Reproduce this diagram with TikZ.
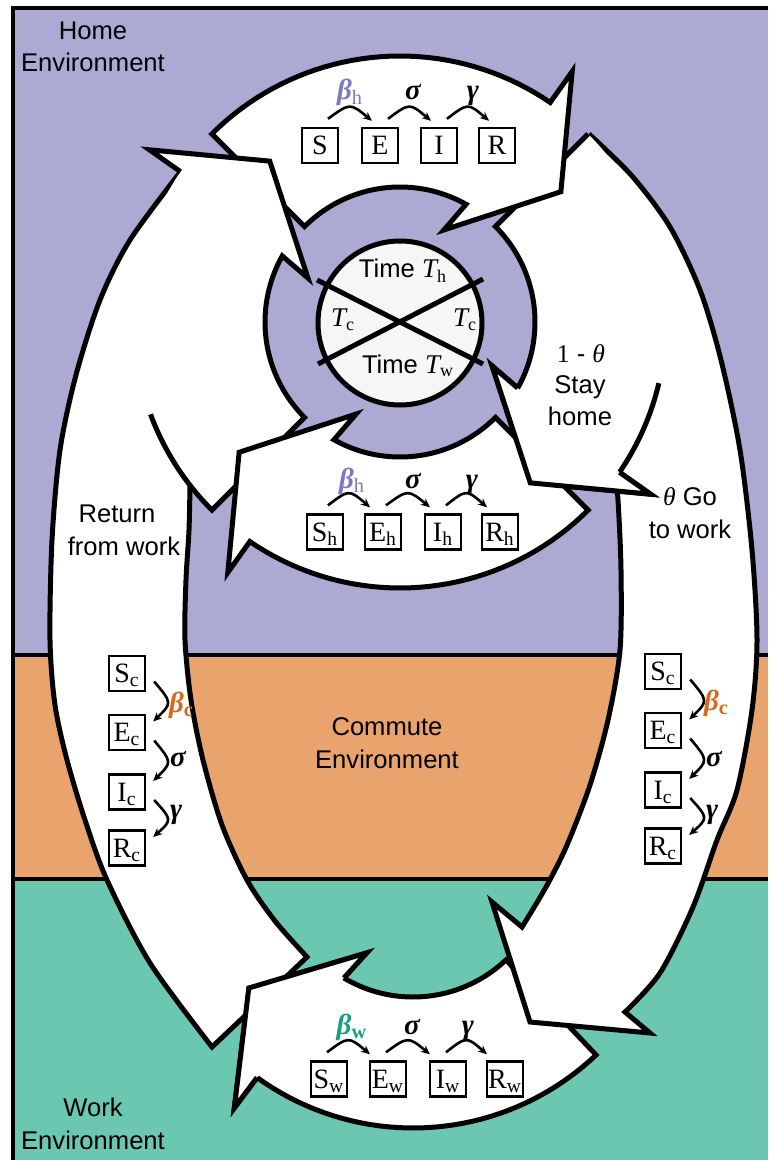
\documentclass[tikz,border=0pt]{standalone}
\usepackage{fontspec}
\setmainfont{Liberation Sans}
\newfontfamily\serif{Liberation Serif}
\usetikzlibrary{arrows.meta,calc}

\definecolor{homebg}{HTML}{ACAAD3}
\definecolor{commbg}{HTML}{E9A36D}
\definecolor{workbg}{HTML}{6CC7B1}
\definecolor{betah}{HTML}{7E78C3}
\definecolor{betac}{HTML}{D9681B}
\definecolor{betaw}{HTML}{15A080}
\definecolor{dialbg}{HTML}{F6F6F6}

% point at radius #3 and angle #4 around (#1,#2); the y axis points down
\newcommand{\ringpt}[4]{({#1+(#3)*cos(#4)},{#2+(#3)*sin(#4)})}
% straight line to such a point
\newcommand{\ringto}[4]{-- ({#1+(#3)*cos(#4)},{#2+(#3)*sin(#4)})}
% circular arc of radius #3 from angle #4 to angle #5
\newcommand{\ringarcto}[5]{-- plot[domain=0:1,samples=40]({#1+(#3)*cos((#4)+((#5)-(#4))*\x)},{#2+(#3)*sin((#4)+((#5)-(#4))*\x)})}
% curved block arrow on a ring, tail at angle #3, head 96 degrees further
\newcommand{\ringarrow}[3]{\ringpt{#1}{#2}{135}{#3} \ringarcto{#1}{#2}{266}{#3}{#3+79.4} \ringto{#1}{#2}{304}{#3+79.5} \ringto{#1}{#2}{207}{#3+96} \ringto{#1}{#2}{102}{#3+70.5} \ringarcto{#1}{#2}{135}{#3+74.3}{#3} -- cycle}
% the head of such an arrow, from outer notch to inner notch
\newcommand{\ringhead}[3]{\ringpt{#1}{#2}{266}{#3+79.4} \ringto{#1}{#2}{304}{#3+79.5} \ringto{#1}{#2}{207}{#3+96} \ringto{#1}{#2}{102}{#3+70.5} \ringto{#1}{#2}{135}{#3+74.3}}
% transition arrows between compartments
\newcommand{\hflow}[3]{\draw[flow] ($(#1.north)+(#3,-8)$) .. controls ($(#1.north)!0.5!(#2.north)+(#3-8,-24)$) .. ($(#2.north)+(#3-16,-6)$);}
\newcommand{\vflow}[2]{\draw[flow] ($(#1.east)+(8,8)$) .. controls ($(#1.east)!0.5!(#2.east)+(26,0)$) .. ($(#2.east)+(7,-11)$);}

\begin{document}
\begin{tikzpicture}[x=0.5pt, y=-0.5pt,
  outline/.style={line width=2.5pt, line join=miter, miter limit=10},
  seirbox/.style={draw, line width=1.2pt, fill=white, minimum width=18pt, minimum height=17.5pt,
    inner sep=0pt, text height=9.3pt, text depth=0.3pt, font=\serif\fontsize{14}{14}\selectfont},
  flow/.style={line width=1.3pt, -{Stealth[length=4.5pt, width=4pt]}},
  envtext/.style={font=\fontsize{12.8}{14}\selectfont, anchor=base},
  ratetext/.style={font=\serif\bfseries\itshape\fontsize{14.5}{14.5}\selectfont, anchor=base},
]
\useasboundingbox (0,0) rectangle (768,1160);

% environments
\fill[homebg] (13,8) rectangle (768,655);
\fill[commbg] (13,655) rectangle (768,879);
\fill[workbg] (13,879) rectangle (768,1160);
\draw[line width=2pt] (13,655) -- (768,655) (13,879) -- (768,879);
\draw[line width=2pt] (768,8) -- (13,8) -- (13,1160);

% work ring
\filldraw[fill=white, outline] \ringarrow{413}{862}{46.5};

% right column: go to work, branching into stay home
\fill[white] plot[smooth] coordinates {(589,134) (632,176) (670,227) (700,290) (721,360) (740,450) (752,550) (757,640) (752,710) (737,790) (717,840) (693,907) (660,973) (625,1012)}
  -- (650,1033) -- (530,1022) -- (492,902) -- (522,927)
  -- plot[smooth] coordinates {(522,927) (546,887) (567,845) (590,785) (608,720) (620,650) (621,570) (618,500) (614,455)}
  -- (590,300) -- (560,200) -- cycle;
\draw[outline] plot[smooth] coordinates {(589,134) (632,176) (670,227) (700,290) (721,360) (740,450) (752,550) (757,640) (752,710) (737,790) (717,840) (693,907) (660,973) (625,1012)}
  -- (650,1033) -- (530,1022) -- (492,902) -- (522,927)
  -- plot[smooth] coordinates {(522,927) (546,887) (567,845) (590,785) (608,720) (620,650) (621,570) (618,500) (614,455)};
\fill[white] \ringarrow{400}{322}{-45};
\draw[outline] \ringpt{400}{322}{266}{-45} \ringto{400}{322}{135}{-45} \ringarcto{400}{322}{135}{-45}{29.3}
  \ringto{400}{322}{102}{25.5} \ringto{400}{322}{207}{51} \ringto{400}{322}{304}{34.5}
  \ringto{400}{322}{266}{34.4} \ringarcto{400}{322}{266}{34.4}{13.3};

% home ring, top
\filldraw[fill=white, outline] \ringarrow{400}{322}{-135};

% left column: return from work, joined by the home ring
\fill[white] plot[smooth] coordinates {(180.5,171.7) (130,240) (100,300) (76,375) (60,450) (52,540) (50,640) (55,705) (67,760) (85,820) (107,880) (150,963) (212,1047)}
  -- (307,957)
  -- plot[smooth] coordinates {(307,957) (275,921) (247,880) (222,825) (203,760) (191,700) (185,640) (186,580) (189,530) (190,485) (200,458)}
  -- (220,300) -- cycle;
\draw[outline] plot[smooth] coordinates {(180.5,171.7) (130,240) (100,300) (76,375) (60,450) (52,540) (50,640) (55,705) (67,760) (85,820) (107,880) (150,963) (212,1047)}
  -- (307,957)
  -- plot[smooth] coordinates {(307,957) (275,921) (247,880) (222,825) (203,760) (191,700) (185,640) (186,580) (189,530) (190,485)};
\fill[white] \ringarrow{400}{322}{135};
\draw[outline] \ringpt{400}{322}{266}{159.7} \ringarcto{400}{322}{266}{159.7}{135} \ringto{400}{322}{135}{135} \ringarcto{400}{322}{135}{135}{209.3}
  \ringto{400}{322}{102}{205.5} \ringto{400}{322}{207}{231} \ringto{400}{322}{304}{214.5}
  \ringto{400}{322}{266}{214.4};

% home ring, bottom
\filldraw[fill=white, outline] \ringarrow{400}{322}{45};

% heads lying over neighbouring tails
\fill[white] \ringhead{400}{322}{-45} -- cycle;
\draw[outline] \ringhead{400}{322}{-45};
\fill[white] \ringhead{413}{862}{46.5} -- cycle;
\draw[outline] \ringhead{413}{862}{46.5};

% time dial
\filldraw[fill=dialbg, line width=2.5pt] (400,323) circle[radius=82];
\draw[line width=2.5pt] (317,280) -- (483,364) (318,364) -- (483,279);
\node[envtext] (th) at (403,278) {Time {\serif\itshape\fontsize{13.5}{14}\selectfont T}\textsubscript{\serif h}};
\node[envtext] (tcl) at (343,327) {{\serif\itshape\fontsize{13.5}{14}\selectfont T}\textsubscript{\serif c}};
\node[envtext] (tcr) at (465,327) {{\serif\itshape\fontsize{13.5}{14}\selectfont T}\textsubscript{\serif c}};
\node[envtext] (tw) at (408,373) {Time {\serif\itshape\fontsize{13.5}{14}\selectfont T}\textsubscript{\serif w}};

% environment names
\node[envtext] (home1) at (93,40) {Home};
\node[envtext] (home2) at (93,72) {Environment};
\node[envtext] (comm1) at (387,735) {Commute};
\node[envtext] (comm2) at (387,768) {Environment};
\node[envtext] (work1) at (93,1116) {Work};
\node[envtext] (work2) at (93,1149) {Environment};

% movement labels
\node[envtext] (ret1) at (117,522) {Return};
\node[envtext] (ret2) at (124,555) {from work};
\node[envtext] (stay1) at (581,362) {{\serif 1} - {\serif\itshape θ}};
\node[envtext] (stay2) at (580,393) {Stay};
\node[envtext] (stay3) at (580,425) {home};
\node[envtext] (go1) at (690,505) {{\serif\itshape θ} Go};
\node[envtext] (go2) at (690,538) {to work};

% home SEIR, top
\node[seirbox] (hS) at (320,145.5) {S};
\node[seirbox] (hE) at (380,145.5) {E};
\node[seirbox] (hI) at (439,145.5) {I};
\node[seirbox] (hR) at (497,145.5) {R};
\hflow{hS}{hE}{8} \hflow{hE}{hI}{8} \hflow{hI}{hR}{8}
\node[ratetext, text=betah] (hb) at (350,100) {β\textsubscript{\mdseries\upshape h}};
\node[ratetext] (hs) at (413,100) {σ};
\node[ratetext] (hg) at (473,100) {γ};

% home SEIR, bottom
\node[seirbox] (sS) at (325,532) {S\textsubscript{h}};
\node[seirbox] (sE) at (383,532) {E\textsubscript{h}};
\node[seirbox] (sI) at (443,532) {I\textsubscript{h}};
\node[seirbox] (sR) at (500,532) {R\textsubscript{h}};
\hflow{sS}{sE}{3} \hflow{sE}{sI}{3} \hflow{sI}{sR}{3}
\node[ratetext, text=betah] (sb) at (352,488) {β\textsubscript{\mdseries\upshape h}};
\node[ratetext] (ss) at (413,488) {σ};
\node[ratetext] (sg) at (472,488) {γ};

% work SEIR
\node[seirbox] (wS) at (329,1079) {S\textsubscript{w}};
\node[seirbox] (wE) at (388,1079) {E\textsubscript{w}};
\node[seirbox] (wI) at (448,1079) {I\textsubscript{w}};
\node[seirbox] (wR) at (505,1079) {R\textsubscript{w}};
\hflow{wS}{wE}{-2} \hflow{wE}{wI}{-2} \hflow{wI}{wR}{-2}
\node[ratetext, text=betaw] (wb) at (352,1034) {β\textsubscript{\upshape w}};
\node[ratetext] (ws) at (412,1034) {σ};
\node[ratetext] (wg) at (468,1034) {γ};

% commute SEIR, return trip
\node[seirbox] (lS) at (127,673.5) {S\textsubscript{c}};
\node[seirbox] (lE) at (127,732.5) {E\textsubscript{c}};
\node[seirbox] (lI) at (127,792) {I\textsubscript{c}};
\node[seirbox] (lR) at (127,848) {R\textsubscript{c}};
\vflow{lS}{lE} \vflow{lE}{lI} \vflow{lI}{lR}
\node[ratetext, anchor=base west, text=betac] (lb) at (162,712) {β\textsubscript{\upshape c}};
\node[ratetext, anchor=base west] (ls) at (163,766) {σ};
\node[ratetext, anchor=base west] (lg) at (163,818) {γ};

% commute SEIR, outward trip
\node[seirbox] (rS) at (663,671.5) {S\textsubscript{c}};
\node[seirbox] (rE) at (663,730.5) {E\textsubscript{c}};
\node[seirbox] (rI) at (663,790) {I\textsubscript{c}};
\node[seirbox] (rR) at (663,846) {R\textsubscript{c}};
\vflow{rS}{rE} \vflow{rE}{rI} \vflow{rI}{rR}
\node[ratetext, anchor=base west, text=betac] (rb) at (697,710) {β\textsubscript{\upshape c}};
\node[ratetext, anchor=base west] (rs) at (699,766) {σ};
\node[ratetext, anchor=base west] (rg) at (699,818) {γ};
\end{tikzpicture}
\end{document}
